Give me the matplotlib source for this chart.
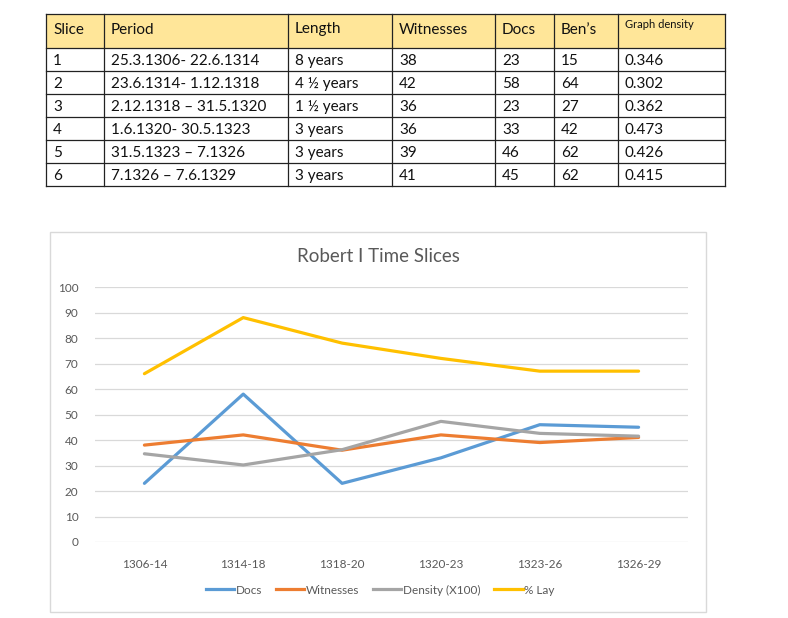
import matplotlib.pyplot as plt
from matplotlib.patches import Rectangle
from matplotlib.lines import Line2D

# table data
headers = ['Slice', 'Period', 'Length', 'Witnesses', 'Docs', 'Ben\u2019s', 'Graph density']
slices = ['1', '2', '3', '4', '5', '6']
periods = ['25.3.1306- 22.6.1314', '23.6.1314- 1.12.1318', '2.12.1318 \u2013 31.5.1320',
           '1.6.1320- 30.5.1323', '31.5.1323 \u2013 7.1326', '7.1326 \u2013 7.6.1329']
lengths = ['8 years', '4 \u00bd years', '1 \u00bd years', '3 years', '3 years', '3 years']
witnesses_tab = [38, 42, 36, 36, 39, 41]
docs_tab = [23, 58, 23, 33, 46, 45]
bens = [15, 64, 27, 42, 62, 62]
density_tab = ['0.346', '0.302', '0.362', '0.473', '0.426', '0.415']

# chart data
periods_short = ['1306-14', '1314-18', '1318-20', '1320-23', '1323-26', '1326-29']
docs = [23, 58, 23, 33, 46, 45]
witnesses = [38, 42, 36, 42, 39, 41]
density_x100 = [34.6, 30.2, 36.2, 47.3, 42.6, 41.5]
lay_pct = [66, 88, 78, 72, 67, 67]

plt.rcParams['font.family'] = ['Lato', 'DejaVu Sans']

W, H = 788, 618
fig = plt.figure(figsize=(W / 100, H / 100), dpi=100)

# background layer in pixel coordinates
bg = fig.add_axes([0, 0, 1, 1])
bg.set_xlim(0, W)
bg.set_ylim(H, 0)
bg.axis('off')

# --- table ---
col_edges = [46, 104, 288, 392, 495, 554, 618, 725]
row_edges = [14, 48, 71, 94, 117, 140, 163, 186]
bg.add_patch(Rectangle((col_edges[0], row_edges[0]), col_edges[-1] - col_edges[0],
                       row_edges[1] - row_edges[0], facecolor='#FFE699', edgecolor='none'))
for x in col_edges:
    bg.plot([x, x], [row_edges[0], row_edges[-1]], color='#222222', lw=0.9)
for y in row_edges:
    bg.plot([col_edges[0], col_edges[-1]], [y, y], color='#222222', lw=0.9)

for j, h in enumerate(headers):
    small = h == 'Graph density'
    yy = (row_edges[0] + row_edges[1]) / 2 - (7 if small else 3)
    bg.text(col_edges[j] + 7, yy, h, fontsize=8 if small else 11, va='center_baseline',
            ha='left', color='#111111')

table_cols = [slices, periods, lengths, witnesses_tab, docs_tab, bens, density_tab]
for j, col in enumerate(table_cols):
    for i, v in enumerate(col):
        yy = (row_edges[i + 1] + row_edges[i + 2]) / 2
        bg.text(col_edges[j] + 7, yy, str(v), fontsize=11, va='center_baseline', ha='left',
                color='#111111')

# --- chart frame ---
bg.add_patch(Rectangle((50, 232), 656, 380, facecolor='white', edgecolor='#D9D9D9', lw=1))
bg.text(378, 257, 'Robert I Time Slices', fontsize=13.5, color='#595959', ha='center', va='center')

ax = fig.add_axes([95 / W, 1 - 542 / H, (688 - 95) / W, (542 - 287) / H])
ax.set_facecolor('none')
x = range(len(periods_short))
series = [(docs, 'Docs', '#5B9BD5'), (witnesses, 'Witnesses', '#ED7D31'),
          (density_x100, 'Density (X100)', '#A5A5A5'), (lay_pct, '% Lay', '#FFC000')]
for vals, lab, c in series:
    ax.plot(x, vals, color=c, lw=2.3, label=lab, solid_capstyle='round')

ax.set_xlim(-0.5, 5.5)
ax.set_ylim(0, 100)
ax.set_yticks(range(0, 101, 10))
ax.set_xticks(list(x))
ax.set_xticklabels(periods_short)
ax.grid(axis='y', color='#D9D9D9', lw=0.9)
ax.set_axisbelow(True)
for s in ax.spines.values():
    s.set_visible(False)
ax.tick_params(length=0, labelsize=8.5, labelcolor='#595959')
ax.tick_params(axis='y', pad=12)
ax.tick_params(axis='x', pad=12)

handles = [Line2D([], [], color=c, lw=2.3) for _, _, c in series]
fig.legend(handles, [s[1] for s in series], loc='center', bbox_to_anchor=(380 / W, 1 - 590 / H),
           ncol=4, frameon=False, fontsize=8.5, handlelength=2.4, handletextpad=0.1,
           columnspacing=1.2, labelcolor='#595959')

fig.savefig('out.png', dpi=100)
